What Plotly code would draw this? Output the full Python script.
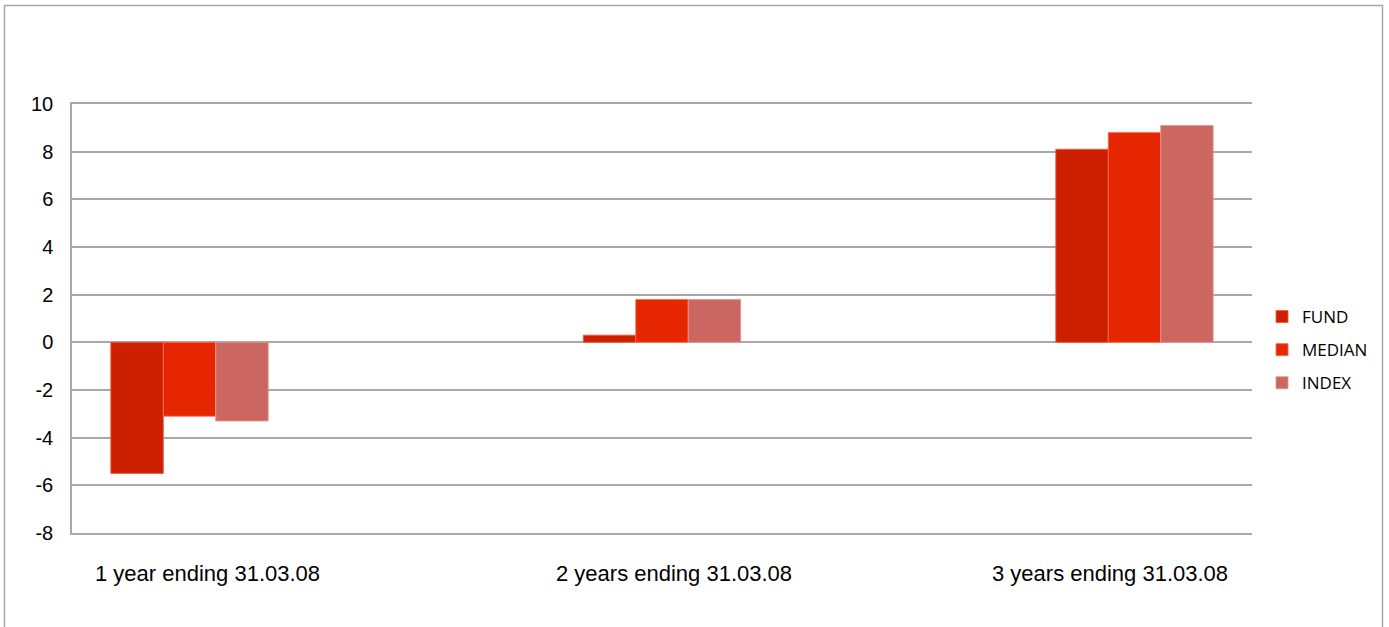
import plotly.graph_objects as go

categories = ["1 year ending 31.03.08", "2 years ending 31.03.08", "3 years ending 31.03.08"]
fund = [-5.5, 0.3, 8.1]
median = [-3.1, 1.8, 8.8]
index_vals = [-3.3, 1.8, 9.1]
y_ticks = [-8, -6, -4, -2, 0, 2, 4, 6, 8, 10]
y_tick_labels = ["-8", "-6", "-4", "-2", "0", "2", "4", "6", "8", "10"]

series = [
    ("FUND", fund, "#cd2000", "rgba(240,90,60,0.9)"),
    ("MEDIAN", median, "#e52600", "rgba(250,110,80,0.9)"),
    ("INDEX", index_vals, "#cc6660", "rgba(230,150,145,0.9)"),
]

fig = go.Figure()
for name, vals, col, lc in series:
    fig.add_trace(go.Bar(
        name=name, x=categories, y=vals, legendgroup=name,
        marker=dict(color=col, line=dict(color=lc, width=1)),
    ))

W, H = 1389, 627
L, R, T, B = 72, 137, 104, 94
pw, ph = W - L - R, H - T - B

def px_x(p):
    return (p - L) / pw

def px_y(p):
    return (H - B - p) / ph

fig.update_layout(
    width=W, height=H,
    margin=dict(l=L, r=R, t=T, b=B, autoexpand=False),
    paper_bgcolor="white", plot_bgcolor="white",
    barmode="group", bargap=0.667, bargroupgap=0,
    font=dict(family="Liberation Sans, Arial, sans-serif", size=20, color="#000000"),
    showlegend=True,
    legend=dict(
        x=0.0085 + 1, y=px_y(350), xanchor="left", yanchor="middle",
        font=dict(family="Open Sans, sans-serif", size=17, color="#000000"),
        itemwidth=30, tracegroupgap=8, traceorder="grouped",
        bgcolor="rgba(0,0,0,0)",
    ),
    xaxis=dict(
        range=[-0.2487, 2.2487], showticklabels=False, showgrid=False,
        zeroline=False, showline=True, mirror=True, linecolor="#a8a8a8",
        linewidth=1.5, ticks="",
    ),
    yaxis=dict(
        range=[-8, 10], tickvals=y_ticks, ticktext=y_tick_labels,
        showgrid=True, gridcolor="#a8a8a8",
        gridwidth=1.5, zeroline=False, showline=True, linecolor="#a8a8a8",
        linewidth=1.5, ticks="", ticklabelstandoff=13,
        tickfont=dict(family="Liberation Sans, Arial, sans-serif", size=20),
    ),
    shapes=[dict(
        type="rect", xref="paper", yref="paper",
        x0=px_x(4.5), x1=px_x(1382.5), y0=px_y(660), y1=px_y(5.5),
        line=dict(color="#a8a8a8", width=1.5), fillcolor="rgba(0,0,0,0)", layer="below",
    )],
)

label_shift = [18, 12, -24]
for cat, sh in zip(categories, label_shift):
    fig.add_annotation(
        x=cat, y=0, xref="x", yref="paper", yanchor="top", yshift=-26,
        xshift=sh, text=cat, showarrow=False,
        font=dict(family="Liberation Sans, Arial, sans-serif", size=22, color="#000"),
    )

fig.write_html("out.html")
